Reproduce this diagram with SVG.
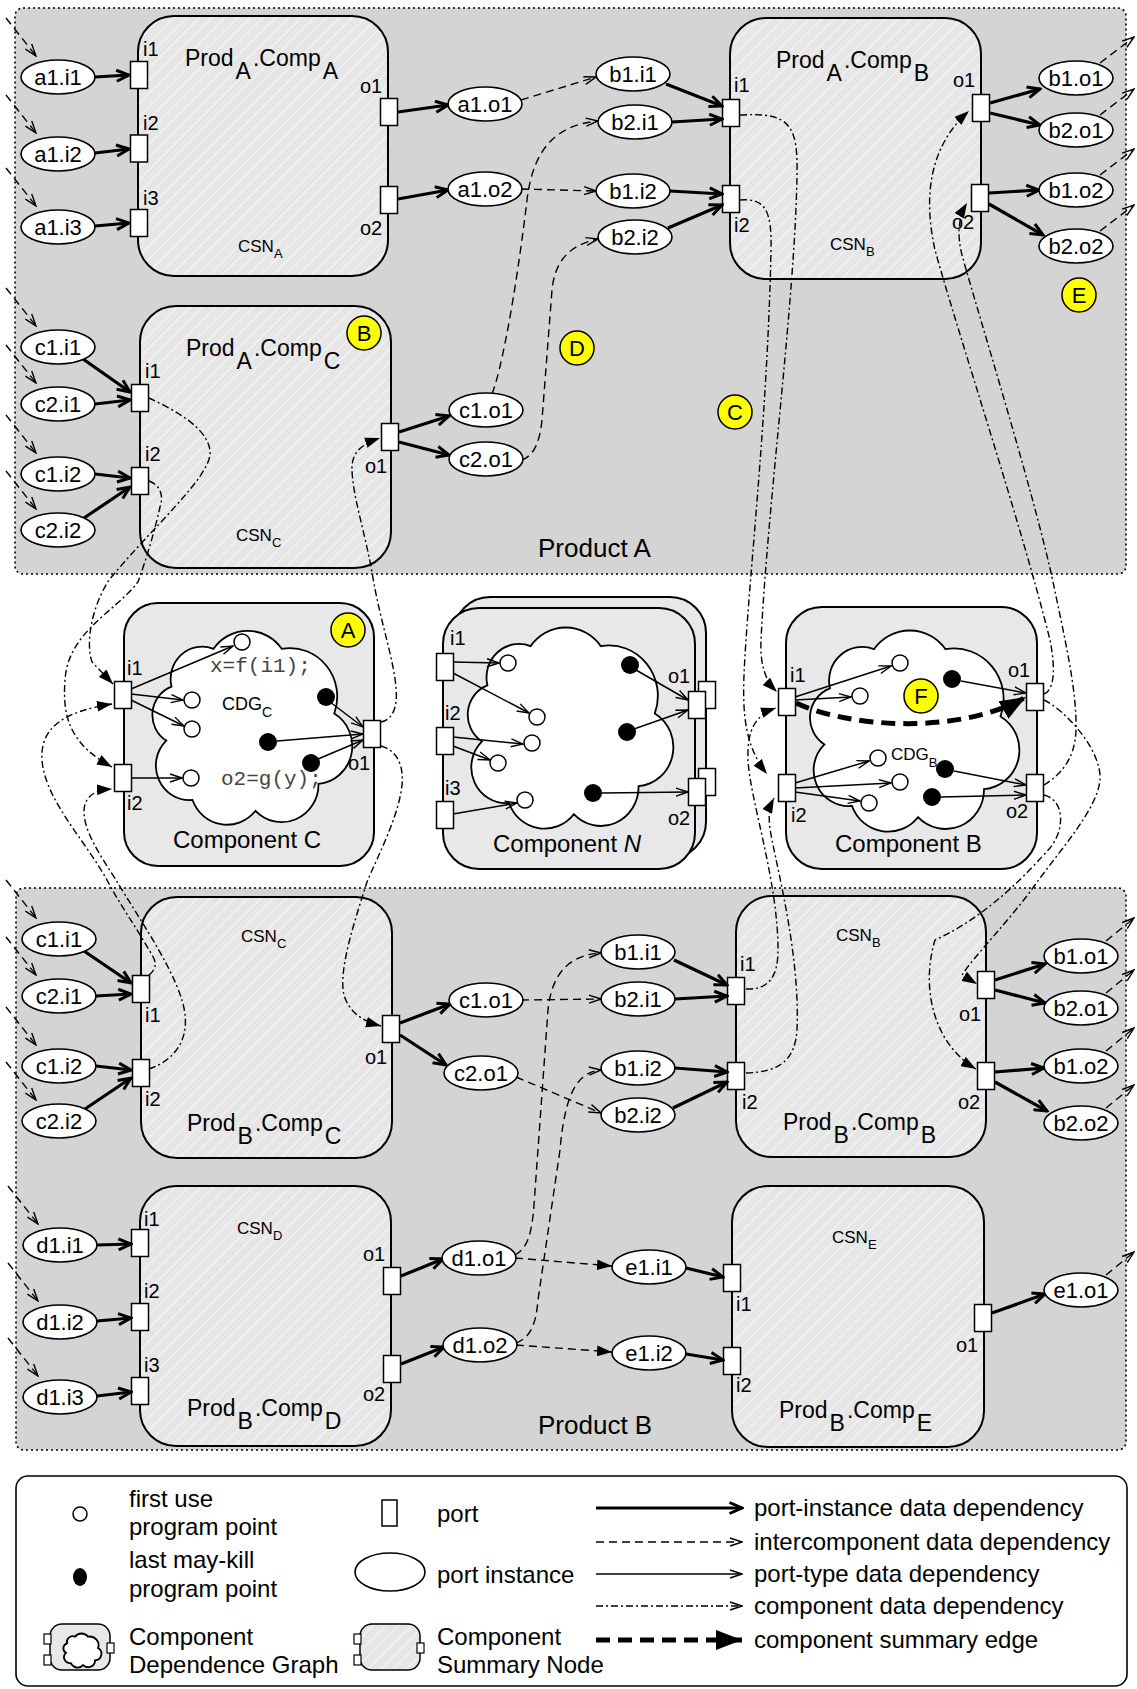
<svg xmlns="http://www.w3.org/2000/svg" width="1137" height="1689" viewBox="0 0 1137 1689">
<style>
text{font-family:"Liberation Sans",Arial,Helvetica,sans-serif;fill:#000}
.pl{font-size:20px}
.el{font-size:22px;text-anchor:middle}
.ti{font-size:23px}
.sb{font-size:23px}
.csn{font-size:17px}
.csb{font-size:13px}
.lg{font-size:24px}
.ct{font-size:24px}
.mono{font-family:"Liberation Mono","Courier New",monospace;font-size:21px;fill:#444}
.bdg{font-size:22px;text-anchor:middle}
.prod{fill:#d4d4d4;stroke:#000;stroke-width:1.6;stroke-dasharray:2 3}
.csnb{fill:url(#hatch);stroke:#000;stroke-width:2}
.cb{fill:#e8e8e8;stroke:#000;stroke-width:2}
.port{fill:#fff;stroke:#000;stroke-width:1.5}
.pi{fill:#fff;stroke:#000;stroke-width:1.6}
.open{fill:#fff;stroke:#000;stroke-width:1.5}
.kill{fill:#000}
.badge{fill:#ffff00;stroke:#000;stroke-width:1.5}
.bold{fill:none;stroke:#000;stroke-width:3.2;marker-end:url(#mBold)}
.thin{fill:none;stroke:#000;stroke-width:1.5;marker-end:url(#mOpen)}
.dash{fill:none;stroke:#000;stroke-width:1.4;stroke-dasharray:8 5;marker-end:url(#mOpen)}
.dashf{fill:none;stroke:#000;stroke-width:1.4;stroke-dasharray:8 5;marker-end:url(#mFill)}
.dd{fill:none;stroke:#000;stroke-width:1.4;stroke-dasharray:7 3 2 3;marker-end:url(#mFill)}
.ddo{fill:none;stroke:#000;stroke-width:1.4;stroke-dasharray:7 3 2 3;marker-end:url(#mOpen)}
.sum{fill:none;stroke:#000;stroke-width:5;stroke-dasharray:14 8;marker-end:url(#mBig)}
</style>
<defs>
<pattern id="hatch" width="9" height="9" patternUnits="userSpaceOnUse" patternTransform="rotate(45)">
<rect width="9" height="9" fill="#e6e6e6"/>
<line x1="0" y1="0" x2="0" y2="9" stroke="#fff" stroke-width="1.3"/>
</pattern>
<path id="cloud" d="M 30 70 A 30 30 0 0 1 70 35 A 40 40 0 0 1 135 35 A 45 45 0 0 1 185 95 A 35 35 0 0 1 170 160 A 35 35 0 0 1 110 185 A 35 35 0 0 1 50 175 A 32 32 0 0 1 25 120 A 28 28 0 0 1 30 70 Z" fill="#fff" stroke="#000" stroke-width="1.8" vector-effect="non-scaling-stroke"/>
<marker id="mBold" viewBox="0 0 16 14" refX="14" refY="7" markerWidth="16" markerHeight="14" orient="auto" markerUnits="userSpaceOnUse">
<path d="M1.5,1.5 L14,7 L1.5,12.5" fill="none" stroke="#000" stroke-width="3"/>
</marker>
<marker id="mOpen" viewBox="0 0 14 10" refX="13" refY="5" markerWidth="14" markerHeight="10" orient="auto" markerUnits="userSpaceOnUse">
<path d="M1,1 L13,5 L1,9" fill="none" stroke="#000" stroke-width="1.4"/>
</marker>
<marker id="mFill" viewBox="0 0 14 10" refX="14" refY="5" markerWidth="15" markerHeight="11" orient="auto" markerUnits="userSpaceOnUse">
<path d="M0,0 L14,5 L0,10 Z" fill="#000"/>
</marker>
<marker id="mBig" viewBox="0 0 26 20" refX="26" refY="10" markerWidth="26" markerHeight="20" orient="auto" markerUnits="userSpaceOnUse">
<path d="M0,0 L26,10 L0,20 Z" fill="#000"/>
</marker>
</defs>

<rect width="1137" height="1689" fill="#fff"/>

<!-- Product regions -->
<g id="productA">
<rect class="prod" x="15" y="8" width="1111" height="566" rx="8"/>
<text x="538" y="557" style="font-size:26px">Product A</text>
</g>
<g id="productB">
<rect class="prod" x="16" y="888" width="1110" height="562" rx="8"/>
<text x="538" y="1434" style="font-size:26px">Product B</text>
</g>

<!-- ===== Product A components ===== -->
<g id="PA_CompA">
<rect class="csnb" x="138" y="16" width="250" height="260" rx="36"/>
<text class="ti" x="185" y="66">Prod<tspan class="sb" dx="2" dy="13">A</tspan><tspan dx="2" dy="-13">.Comp</tspan><tspan class="sb" dx="2" dy="13">A</tspan></text>
<text class="csn" x="238" y="252">CSN<tspan class="csb" dy="6">A</tspan></text>
<rect class="port" x="130.5" y="61.5" width="17" height="27"/>
<rect class="port" x="130.5" y="135" width="17" height="27"/>
<rect class="port" x="130.5" y="209.5" width="17" height="27"/>
<rect class="port" x="380.5" y="98.5" width="17" height="27"/>
<rect class="port" x="380.5" y="186.5" width="17" height="27"/>
<text class="pl" x="143" y="56">i1</text>
<text class="pl" x="143" y="130">i2</text>
<text class="pl" x="143" y="205">i3</text>
<text class="pl" x="360" y="93">o1</text>
<text class="pl" x="360" y="235">o2</text>
</g>

<g id="PA_CompB">
<rect class="csnb" x="730" y="18" width="251" height="261" rx="36"/>
<text class="ti" x="776" y="68">Prod<tspan class="sb" dx="2" dy="13">A</tspan><tspan dx="2" dy="-13">.Comp</tspan><tspan class="sb" dx="2" dy="13">B</tspan></text>
<text class="csn" x="830" y="250">CSN<tspan class="csb" dy="6">B</tspan></text>
<rect class="port" x="722.5" y="99.5" width="17" height="27"/>
<rect class="port" x="722.5" y="185.5" width="17" height="27"/>
<rect class="port" x="972.5" y="94.5" width="17" height="27"/>
<rect class="port" x="971.5" y="184.5" width="17" height="27"/>
<text class="pl" x="734" y="92">i1</text>
<text class="pl" x="734" y="232">i2</text>
<text class="pl" x="953" y="87">o1</text>
<text class="pl" x="952" y="229">o2</text>
</g>

<g id="PA_CompC">
<rect class="csnb" x="140" y="306" width="251" height="262" rx="36"/>
<text class="ti" x="186" y="356">Prod<tspan class="sb" dx="2" dy="13">A</tspan><tspan dx="2" dy="-13">.Comp</tspan><tspan class="sb" dx="2" dy="13">C</tspan></text>
<text class="csn" x="236" y="541">CSN<tspan class="csb" dy="6">C</tspan></text>
<rect class="port" x="131.5" y="384.5" width="17" height="27"/>
<rect class="port" x="131.5" y="467.5" width="17" height="27"/>
<rect class="port" x="381.5" y="423.5" width="17" height="27"/>
<text class="pl" x="145" y="378">i1</text>
<text class="pl" x="145" y="461">i2</text>
<text class="pl" x="365" y="473">o1</text>
</g>

<!-- ===== Component types ===== -->
<g id="Component_C">
<rect class="cb" x="124" y="603" width="250" height="263" rx="34"/>
<use href="#cloud" transform="translate(140,611) scale(1.05,1.08)"/>
<text class="mono" x="210" y="672">x=f(i1);</text>
<text class="mono" x="221" y="785">o2=g(y);</text>
<text x="222" y="710" style="font-size:18px">CDG<tspan dy="7" style="font-size:14px">C</tspan></text>
<circle class="open" cx="242" cy="642" r="8"/>
<circle class="open" cx="192" cy="700" r="8"/>
<circle class="open" cx="192" cy="729" r="8"/>
<circle class="open" cx="191" cy="778" r="8"/>
<circle class="kill" cx="326" cy="697" r="9"/>
<circle class="kill" cx="268" cy="742" r="9"/>
<circle class="kill" cx="311" cy="763" r="9"/>
<path class="thin" d="M131,689 L233,646"/>
<path class="thin" d="M131,694 L183,700"/>
<path class="thin" d="M131,700 L184,726"/>
<path class="thin" d="M131,778 L182,778"/>
<path class="thin" d="M330,702 L363,727"/>
<path class="thin" d="M277,741 L363,734"/>
<path class="thin" d="M318,759 L363,740"/>
<rect class="port" x="114.5" y="681.5" width="17" height="27"/>
<rect class="port" x="114.5" y="764.5" width="17" height="27"/>
<rect class="port" x="363.5" y="720.5" width="17" height="27"/>
<text class="pl" x="127" y="675">i1</text>
<text class="pl" x="127" y="810">i2</text>
<text class="pl" x="348" y="770">o1</text>
<text class="ct" x="173" y="848">Component C</text>
</g>

<g id="Component_N">
<rect class="cb" x="454" y="597" width="252" height="261" rx="36"/>
<rect class="port" x="698.5" y="681.5" width="17" height="27"/>
<rect class="port" x="698.5" y="768.5" width="17" height="27"/>
<rect class="cb" x="443" y="608" width="252" height="261" rx="36"/>
<use href="#cloud" transform="translate(455,607) scale(1.08,1.12)"/>
<circle class="open" cx="508" cy="663" r="8"/>
<circle class="open" cx="537" cy="717" r="8"/>
<circle class="open" cx="532" cy="743" r="8"/>
<circle class="open" cx="498" cy="763" r="8"/>
<circle class="open" cx="525" cy="800" r="8"/>
<circle class="kill" cx="630" cy="665" r="9"/>
<circle class="kill" cx="627" cy="732" r="9"/>
<circle class="kill" cx="593" cy="793" r="9"/>
<path class="thin" d="M453,662 L499,663"/>
<path class="thin" d="M453,673 L529,713"/>
<path class="thin" d="M453,737 L523,744"/>
<path class="thin" d="M453,746 L490,760"/>
<path class="thin" d="M453,814 L517,803"/>
<path class="thin" d="M636,670 L688,700"/>
<path class="thin" d="M634,729 L688,710"/>
<path class="thin" d="M602,793 L688,792"/>
<rect class="port" x="436.5" y="653.5" width="17" height="27"/>
<rect class="port" x="436.5" y="727.5" width="17" height="27"/>
<rect class="port" x="436.5" y="801.5" width="17" height="27"/>
<rect class="port" x="688.5" y="691.5" width="17" height="27"/>
<rect class="port" x="688.5" y="778.5" width="17" height="27"/>
<text class="pl" x="450" y="645">i1</text>
<text class="pl" x="445" y="720">i2</text>
<text class="pl" x="445" y="795">i3</text>
<text class="pl" x="668" y="683">o1</text>
<text class="pl" x="668" y="825">o2</text>
<text class="ct" x="493" y="852">Component <tspan font-style="italic">N</tspan></text>
</g>

<g id="Component_B">
<rect class="cb" x="786" y="607" width="251" height="262" rx="36"/>
<use href="#cloud" transform="translate(797,610) scale(1.1,1.12)"/>
<circle class="open" cx="900" cy="663" r="8"/>
<circle class="open" cx="860" cy="696" r="8"/>
<circle class="open" cx="878" cy="758" r="8"/>
<circle class="open" cx="900" cy="782" r="8"/>
<circle class="open" cx="869" cy="803" r="8"/>
<circle class="kill" cx="952" cy="679" r="9"/>
<circle class="kill" cx="945" cy="769" r="9"/>
<circle class="kill" cx="932" cy="797" r="9"/>
<text x="891" y="760" style="font-size:17px">CDG<tspan dy="7" style="font-size:13px">B</tspan></text>
<path class="thin" d="M795,697 L891,666"/>
<path class="thin" d="M795,700 L851,697"/>
<path class="thin" d="M795,783 L869,761"/>
<path class="thin" d="M795,788 L891,783"/>
<path class="thin" d="M795,792 L860,801"/>
<path class="thin" d="M961,681 L1026,693"/>
<path class="thin" d="M954,771 L1026,785"/>
<path class="thin" d="M941,797 L1026,795"/>
<path class="sum" d="M796,703 C850,728 960,735 1026,697"/>
<rect class="port" x="778.5" y="688.5" width="17" height="27"/>
<rect class="port" x="778.5" y="774.5" width="17" height="27"/>
<rect class="port" x="1026.5" y="683.5" width="17" height="27"/>
<rect class="port" x="1026.5" y="774.5" width="17" height="27"/>
<text class="pl" x="790" y="682">i1</text>
<text class="pl" x="791" y="822">i2</text>
<text class="pl" x="1008" y="677">o1</text>
<text class="pl" x="1006" y="818">o2</text>
<text class="ct" x="835" y="852">Component B</text>
</g>

<!-- ===== Product B components ===== -->
<g id="PB_CompC">
<rect class="csnb" x="141" y="897" width="251" height="261" rx="36"/>
<text class="ti" x="187" y="1131">Prod<tspan class="sb" dx="2" dy="13">B</tspan><tspan dx="2" dy="-13">.Comp</tspan><tspan class="sb" dx="2" dy="13">C</tspan></text>
<text class="csn" x="241" y="942">CSN<tspan class="csb" dy="6">C</tspan></text>
<rect class="port" x="132.5" y="975.5" width="17" height="27"/>
<rect class="port" x="132.5" y="1059.5" width="17" height="27"/>
<rect class="port" x="382.5" y="1015.5" width="17" height="27"/>
<text class="pl" x="145" y="1022">i1</text>
<text class="pl" x="145" y="1106">i2</text>
<text class="pl" x="365" y="1064">o1</text>
</g>

<g id="PB_CompB">
<rect class="csnb" x="736" y="896" width="250" height="261" rx="36"/>
<text class="ti" x="783" y="1130">Prod<tspan class="sb" dx="2" dy="13">B</tspan><tspan dx="2" dy="-13">.Comp</tspan><tspan class="sb" dx="2" dy="13">B</tspan></text>
<text class="csn" x="836" y="941">CSN<tspan class="csb" dy="6">B</tspan></text>
<rect class="port" x="727.5" y="977.5" width="17" height="27"/>
<rect class="port" x="727.5" y="1062.5" width="17" height="27"/>
<rect class="port" x="977.5" y="971.5" width="17" height="27"/>
<rect class="port" x="977.5" y="1062.5" width="17" height="27"/>
<text class="pl" x="740" y="971">i1</text>
<text class="pl" x="742" y="1109">i2</text>
<text class="pl" x="959" y="1021">o1</text>
<text class="pl" x="958" y="1109">o2</text>
</g>

<g id="PB_CompD">
<rect class="csnb" x="140" y="1186" width="251" height="260" rx="36"/>
<text class="ti" x="187" y="1416">Prod<tspan class="sb" dx="2" dy="13">B</tspan><tspan dx="2" dy="-13">.Comp</tspan><tspan class="sb" dx="2" dy="13">D</tspan></text>
<text class="csn" x="237" y="1234">CSN<tspan class="csb" dy="6">D</tspan></text>
<rect class="port" x="131.5" y="1229.5" width="17" height="27"/>
<rect class="port" x="131.5" y="1303.5" width="17" height="27"/>
<rect class="port" x="131.5" y="1377.5" width="17" height="27"/>
<rect class="port" x="383.5" y="1267.5" width="17" height="27"/>
<rect class="port" x="383.5" y="1355.5" width="17" height="27"/>
<text class="pl" x="144" y="1226">i1</text>
<text class="pl" x="144" y="1298">i2</text>
<text class="pl" x="144" y="1372">i3</text>
<text class="pl" x="363" y="1261">o1</text>
<text class="pl" x="363" y="1401">o2</text>
</g>

<g id="PB_CompE">
<rect class="csnb" x="732" y="1186" width="252" height="261" rx="36"/>
<text class="ti" x="779" y="1418">Prod<tspan class="sb" dx="2" dy="13">B</tspan><tspan dx="2" dy="-13">.Comp</tspan><tspan class="sb" dx="2" dy="13">E</tspan></text>
<text class="csn" x="832" y="1243">CSN<tspan class="csb" dy="6">E</tspan></text>
<rect class="port" x="723.5" y="1264.5" width="17" height="27"/>
<rect class="port" x="723.5" y="1347.5" width="17" height="27"/>
<rect class="port" x="974.5" y="1304.5" width="17" height="27"/>
<text class="pl" x="736" y="1311">i1</text>
<text class="pl" x="736" y="1392">i2</text>
<text class="pl" x="956" y="1352">o1</text>
</g>

<!-- ===== Connectors ===== -->
<g id="connectors">
<path class="dash" d="M6,18 L36,56"/>
<path class="dash" d="M6,95 L36,133"/>
<path class="dash" d="M6,168 L36,206"/>
<path class="dash" d="M6,288 L36,326"/>
<path class="dash" d="M6,345 L36,383"/>
<path class="dash" d="M6,415 L36,453"/>
<path class="dash" d="M6,471 L36,509"/>
<path class="dash" d="M6,880 L36,918"/>
<path class="dash" d="M6,937 L36,975"/>
<path class="dash" d="M6,1007 L36,1045"/>
<path class="dash" d="M6,1062 L36,1100"/>
<path class="dash" d="M8,1186 L38,1224"/>
<path class="dash" d="M8,1263 L38,1301"/>
<path class="dash" d="M8,1338 L38,1376"/>
<path class="dash" d="M1100,63 L1134,37"/>
<path class="dash" d="M1100,115 L1134,89"/>
<path class="dash" d="M1100,175 L1134,149"/>
<path class="dash" d="M1100,231 L1134,205"/>
<path class="dash" d="M1106,941 L1134,918"/>
<path class="dash" d="M1106,993 L1134,970"/>
<path class="dash" d="M1106,1051 L1134,1028"/>
<path class="dash" d="M1106,1108 L1134,1085"/>
<path class="dash" d="M1106,1275 L1134,1252"/>

<path class="bold" d="M95,77 L129,75"/>
<path class="bold" d="M95,153 L129,149"/>
<path class="bold" d="M95,226 L129,223"/>
<path class="bold" d="M83,359 L130,392"/>
<path class="bold" d="M95,404 L130,400"/>
<path class="bold" d="M95,474 L130,478"/>
<path class="bold" d="M84,518 L130,487"/>
<path class="bold" d="M398,112 L448,105"/>
<path class="bold" d="M398,199 L448,190"/>
<path class="bold" d="M399,432 L449,416"/>
<path class="bold" d="M399,442 L449,455"/>
<path class="bold" d="M666,84 L722,106"/>
<path class="bold" d="M672,122 L722,119"/>
<path class="bold" d="M670,191 L722,194"/>
<path class="bold" d="M668,228 L722,205"/>
<path class="bold" d="M990,103 L1040,89"/>
<path class="bold" d="M990,113 L1040,125"/>
<path class="bold" d="M989,193 L1039,190"/>
<path class="bold" d="M989,204 L1043,235"/>
<path class="bold" d="M84,951 L131,983"/>
<path class="bold" d="M96,996 L131,994"/>
<path class="bold" d="M96,1066 L131,1070"/>
<path class="bold" d="M85,1109 L131,1078"/>
<path class="bold" d="M97,1245 L131,1244"/>
<path class="bold" d="M97,1321 L131,1318"/>
<path class="bold" d="M97,1396 L131,1392"/>
<path class="bold" d="M400,1023 L450,1004"/>
<path class="bold" d="M400,1035 L446,1065"/>
<path class="bold" d="M401,1276 L443,1259"/>
<path class="bold" d="M401,1364 L444,1347"/>
<path class="bold" d="M674,960 L727,985"/>
<path class="bold" d="M675,999 L727,996"/>
<path class="bold" d="M675,1068 L727,1072"/>
<path class="bold" d="M673,1108 L727,1082"/>
<path class="bold" d="M995,980 L1045,964"/>
<path class="bold" d="M995,990 L1045,1003"/>
<path class="bold" d="M995,1072 L1044,1068"/>
<path class="bold" d="M995,1082 L1047,1111"/>
<path class="bold" d="M686,1268 L723,1277"/>
<path class="bold" d="M686,1354 L723,1360"/>
<path class="bold" d="M992,1313 L1045,1294"/>

<path class="dash" d="M521,100 L596,77"/>
<path class="dash" d="M521,189 L596,191"/>
<path class="dash" d="M492,394 C505,360 520,260 527,200 C533,150 555,125 598,121"/>
<path class="dash" d="M522,460 C535,455 540,440 542,420 L552,290 C555,260 570,245 598,239"/>
<path class="dash" d="M521,1000 L601,999"/>
<path class="dash" d="M516,1077 L601,1113"/>
<path class="dash" d="M515,1255 C528,1248 532,1232 534,1205 L548,1010 C552,972 570,955 601,953"/>
<path class="dash" d="M516,1343 C530,1338 536,1325 538,1300 L560,1150 C565,1092 578,1072 601,1070"/>
<path class="dashf" d="M515,1258 L612,1266"/>
<path class="dashf" d="M516,1345 L612,1352"/>

<path class="dd" d="M149,398 C175,410 212,430 210,455 C207,480 150,530 109,580 C90,610 86,645 92,662 L113,684"/>
<path class="dd" d="M149,481 C160,485 164,495 160,507 C155,530 146,560 138,582 C115,612 68,632 65,680 C62,720 72,745 112,767"/>
<path class="dd" d="M149,975 C156,970 157,962 152,955 C135,925 120,905 107,880 C85,840 45,800 42,760 C40,730 60,712 112,704"/>
<path class="dd" d="M149,1069 C175,1060 188,1040 185,1015 C182,980 140,920 116,880 C100,855 83,830 84,810 C85,796 95,790 112,789"/>
<path class="dd" d="M381,722 C392,720 398,708 396,688 C394,660 380,620 373,578 C366,535 352,495 352,468 C352,452 362,444 380,438"/>
<path class="dd" d="M381,746 C396,750 406,765 401,792 C396,822 376,860 367,882 C355,920 338,970 344,995 C349,1012 362,1021 381,1026"/>
<path class="dd" d="M740,115 C790,112 798,125 797,175 C795,300 768,500 761,640 C760,665 765,680 777,692"/>
<path class="dd" d="M740,200 C765,198 772,210 771,250 C768,400 752,550 746,640 C742,700 740,740 767,774"/>
<path class="dd" d="M746,989 C770,990 778,975 778,950 C778,880 750,800 748,760 C747,730 755,715 776,708"/>
<path class="dd" d="M746,1073 C780,1072 795,1060 797,1030 C800,960 780,880 772,840 C768,820 768,810 774,798"/>
<path class="dd" d="M1044,694 C1054,690 1056,670 1050,640 C1020,520 960,340 935,250 C925,205 925,150 969,111"/>
<path class="dd" d="M1044,785 C1060,775 1075,760 1076,730 C1077,690 1065,640 1052,577 C1030,480 980,320 962,255 C957,235 958,218 967,203"/>
<path class="dd" d="M1044,700 C1065,710 1102,750 1100,780 C1097,810 1060,850 1035,885 C1010,920 975,955 962,975 L977,984"/>
<path class="dd" d="M1044,795 C1065,800 1065,830 1050,848 C1030,870 990,915 935,940 C920,990 935,1045 976,1069"/>
</g>

<!-- ===== Port instances Product A ===== -->
<g id="PA_a1_i1"><ellipse class="pi" cx="58" cy="77" rx="37" ry="17"/><text class="el" x="58" y="85">a1.i1</text></g>
<g id="PA_a1_i2"><ellipse class="pi" cx="58" cy="154" rx="37" ry="17"/><text class="el" x="58" y="162">a1.i2</text></g>
<g id="PA_a1_i3"><ellipse class="pi" cx="58" cy="227" rx="37" ry="17"/><text class="el" x="58" y="235">a1.i3</text></g>
<g id="PA_c1_i1"><ellipse class="pi" cx="58" cy="347" rx="37" ry="17"/><text class="el" x="58" y="355">c1.i1</text></g>
<g id="PA_c2_i1"><ellipse class="pi" cx="58" cy="404" rx="37" ry="17"/><text class="el" x="58" y="412">c2.i1</text></g>
<g id="PA_c1_i2"><ellipse class="pi" cx="58" cy="474" rx="37" ry="17"/><text class="el" x="58" y="482">c1.i2</text></g>
<g id="PA_c2_i2"><ellipse class="pi" cx="58" cy="530" rx="37" ry="17"/><text class="el" x="58" y="538">c2.i2</text></g>
<g id="PA_a1_o1"><ellipse class="pi" cx="485" cy="104" rx="37" ry="17"/><text class="el" x="485" y="112">a1.o1</text></g>
<g id="PA_a1_o2"><ellipse class="pi" cx="485" cy="189" rx="37" ry="17"/><text class="el" x="485" y="197">a1.o2</text></g>
<g id="PA_c1_o1"><ellipse class="pi" cx="486" cy="410" rx="37" ry="17"/><text class="el" x="486" y="418">c1.o1</text></g>
<g id="PA_c2_o1"><ellipse class="pi" cx="486" cy="459" rx="37" ry="17"/><text class="el" x="486" y="467">c2.o1</text></g>
<g id="PA_b1_i1"><ellipse class="pi" cx="633" cy="74" rx="37" ry="17"/><text class="el" x="633" y="82">b1.i1</text></g>
<g id="PA_b2_i1"><ellipse class="pi" cx="635" cy="122" rx="37" ry="17"/><text class="el" x="635" y="130">b2.i1</text></g>
<g id="PA_b1_i2"><ellipse class="pi" cx="633" cy="191" rx="37" ry="17"/><text class="el" x="633" y="199">b1.i2</text></g>
<g id="PA_b2_i2"><ellipse class="pi" cx="635" cy="237" rx="37" ry="17"/><text class="el" x="635" y="245">b2.i2</text></g>
<g id="PA_b1_o1"><ellipse class="pi" cx="1076" cy="78" rx="37" ry="17"/><text class="el" x="1076" y="86">b1.o1</text></g>
<g id="PA_b2_o1"><ellipse class="pi" cx="1076" cy="130" rx="37" ry="17"/><text class="el" x="1076" y="138">b2.o1</text></g>
<g id="PA_b1_o2"><ellipse class="pi" cx="1076" cy="190" rx="37" ry="17"/><text class="el" x="1076" y="198">b1.o2</text></g>
<g id="PA_b2_o2"><ellipse class="pi" cx="1076" cy="246" rx="37" ry="17"/><text class="el" x="1076" y="254">b2.o2</text></g>

<!-- ===== Port instances Product B ===== -->
<g id="PB_c1_i1"><ellipse class="pi" cx="59" cy="939" rx="37" ry="17"/><text class="el" x="59" y="947">c1.i1</text></g>
<g id="PB_c2_i1"><ellipse class="pi" cx="59" cy="996" rx="37" ry="17"/><text class="el" x="59" y="1004">c2.i1</text></g>
<g id="PB_c1_i2"><ellipse class="pi" cx="59" cy="1066" rx="37" ry="17"/><text class="el" x="59" y="1074">c1.i2</text></g>
<g id="PB_c2_i2"><ellipse class="pi" cx="59" cy="1121" rx="37" ry="17"/><text class="el" x="59" y="1129">c2.i2</text></g>
<g id="PB_d1_i1"><ellipse class="pi" cx="60" cy="1245" rx="37" ry="17"/><text class="el" x="60" y="1253">d1.i1</text></g>
<g id="PB_d1_i2"><ellipse class="pi" cx="60" cy="1322" rx="37" ry="17"/><text class="el" x="60" y="1330">d1.i2</text></g>
<g id="PB_d1_i3"><ellipse class="pi" cx="60" cy="1397" rx="37" ry="17"/><text class="el" x="60" y="1405">d1.i3</text></g>
<g id="PB_c1_o1"><ellipse class="pi" cx="486" cy="1000" rx="37" ry="17"/><text class="el" x="486" y="1008">c1.o1</text></g>
<g id="PB_c2_o1"><ellipse class="pi" cx="481" cy="1073" rx="37" ry="17"/><text class="el" x="481" y="1081">c2.o1</text></g>
<g id="PB_d1_o1"><ellipse class="pi" cx="479" cy="1258" rx="37" ry="17"/><text class="el" x="479" y="1266">d1.o1</text></g>
<g id="PB_d1_o2"><ellipse class="pi" cx="480" cy="1345" rx="37" ry="17"/><text class="el" x="480" y="1353">d1.o2</text></g>
<g id="PB_b1_i1"><ellipse class="pi" cx="638" cy="952" rx="37" ry="17"/><text class="el" x="638" y="960">b1.i1</text></g>
<g id="PB_b2_i1"><ellipse class="pi" cx="638" cy="999" rx="37" ry="17"/><text class="el" x="638" y="1007">b2.i1</text></g>
<g id="PB_b1_i2"><ellipse class="pi" cx="638" cy="1068" rx="37" ry="17"/><text class="el" x="638" y="1076">b1.i2</text></g>
<g id="PB_b2_i2"><ellipse class="pi" cx="638" cy="1115" rx="37" ry="17"/><text class="el" x="638" y="1123">b2.i2</text></g>
<g id="PB_b1_o1"><ellipse class="pi" cx="1081" cy="956" rx="37" ry="17"/><text class="el" x="1081" y="964">b1.o1</text></g>
<g id="PB_b2_o1"><ellipse class="pi" cx="1081" cy="1008" rx="37" ry="17"/><text class="el" x="1081" y="1016">b2.o1</text></g>
<g id="PB_b1_o2"><ellipse class="pi" cx="1081" cy="1066" rx="37" ry="17"/><text class="el" x="1081" y="1074">b1.o2</text></g>
<g id="PB_b2_o2"><ellipse class="pi" cx="1081" cy="1123" rx="37" ry="17"/><text class="el" x="1081" y="1131">b2.o2</text></g>
<g id="PB_e1_i1"><ellipse class="pi" cx="649" cy="1267" rx="37" ry="17"/><text class="el" x="649" y="1275">e1.i1</text></g>
<g id="PB_e1_i2"><ellipse class="pi" cx="649" cy="1353" rx="37" ry="17"/><text class="el" x="649" y="1361">e1.i2</text></g>
<g id="PB_e1_o1"><ellipse class="pi" cx="1081" cy="1290" rx="37" ry="17"/><text class="el" x="1081" y="1298">e1.o1</text></g>

<!-- badges -->
<g id="badge_A"><circle class="badge" cx="348" cy="630" r="17"/><text class="bdg" x="348" y="638">A</text></g>
<g id="badge_B"><circle class="badge" cx="364" cy="333" r="17"/><text class="bdg" x="364" y="341">B</text></g>
<g id="badge_C"><circle class="badge" cx="735" cy="412" r="17"/><text class="bdg" x="735" y="420">C</text></g>
<g id="badge_D"><circle class="badge" cx="577" cy="348" r="17"/><text class="bdg" x="577" y="356">D</text></g>
<g id="badge_E"><circle class="badge" cx="1079" cy="295" r="17"/><text class="bdg" x="1079" y="303">E</text></g>
<g id="badge_F"><circle class="badge" cx="921" cy="696" r="17"/><text class="bdg" x="921" y="704">F</text></g>

<!-- ===== Legend ===== -->
<g id="legend">
<rect x="16" y="1476" width="1111" height="210" rx="12" fill="#fff" stroke="#000" stroke-width="1.6"/>
<circle class="open" cx="80" cy="1514" r="7"/>
<text class="lg" x="129" y="1507">first use</text>
<text class="lg" x="129" y="1535">program point</text>
<ellipse cx="80" cy="1577" rx="7" ry="9" fill="#000"/>
<text class="lg" x="129" y="1568">last may-kill</text>
<text class="lg" x="129" y="1597">program point</text>
<rect x="50" y="1624" width="60" height="46" rx="12" fill="#e8e8e8" stroke="#000" stroke-width="1.5"/>
<use href="#cloud" transform="translate(61,1630) scale(0.2,0.19)"/>
<rect class="port" x="44" y="1634" width="7" height="10" style="stroke-width:1.2"/>
<rect class="port" x="44" y="1655" width="7" height="10" style="stroke-width:1.2"/>
<rect class="port" x="107" y="1643" width="7" height="10" style="stroke-width:1.2"/>
<text class="lg" x="129" y="1645">Component</text>
<text class="lg" x="129" y="1673">Dependence Graph</text>
<rect class="port" x="382" y="1500" width="15" height="26"/>
<text class="lg" x="437" y="1522">port</text>
<ellipse class="pi" cx="390" cy="1572" rx="35" ry="19"/>
<text class="lg" x="437" y="1583">port instance</text>
<rect x="360" y="1624" width="60" height="46" rx="12" fill="url(#hatch)" stroke="#000" stroke-width="1.5"/>
<rect class="port" x="354" y="1634" width="7" height="10" style="stroke-width:1.2"/>
<rect class="port" x="354" y="1655" width="7" height="10" style="stroke-width:1.2"/>
<rect class="port" x="417" y="1643" width="7" height="10" style="stroke-width:1.2"/>
<text class="lg" x="437" y="1645">Component</text>
<text class="lg" x="437" y="1673">Summary Node</text>
<path class="bold" d="M596,1508 L742,1508"/>
<path class="dash" d="M596,1542 L742,1542"/>
<path class="thin" d="M596,1574 L742,1574"/>
<path class="ddo" d="M596,1606 L742,1606"/>
<path class="sum" d="M596,1640 L742,1640"/>
<text class="lg" x="754" y="1516">port-instance data dependency</text>
<text class="lg" x="754" y="1550">intercomponent data dependency</text>
<text class="lg" x="754" y="1582">port-type data dependency</text>
<text class="lg" x="754" y="1614">component data dependency</text>
<text class="lg" x="754" y="1648">component summary edge</text>
</g>
</svg>
